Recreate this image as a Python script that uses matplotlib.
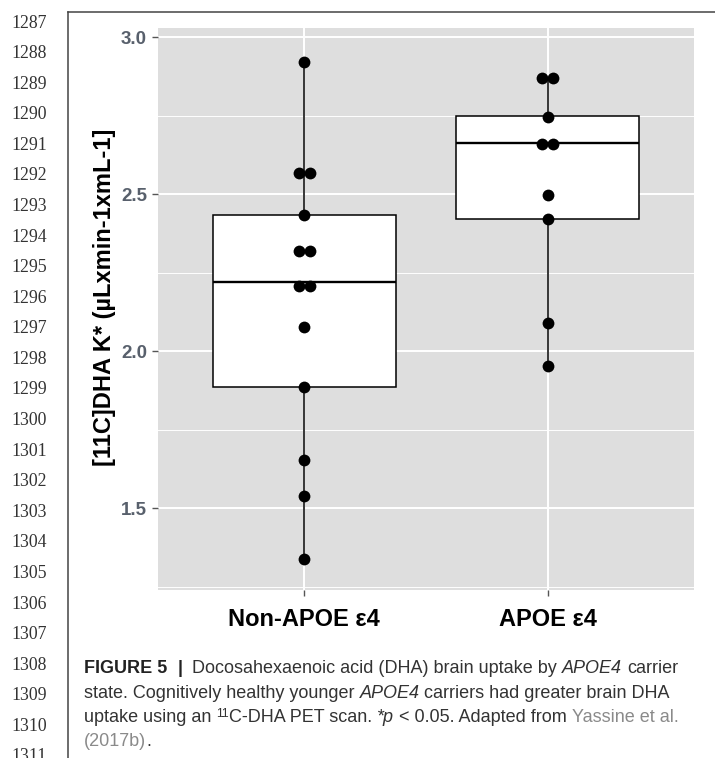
import matplotlib
matplotlib.use('Agg')
import matplotlib.pyplot as plt
from matplotlib.lines import Line2D
import numpy as np

# datos
grupos = ['Non-APOE ε4', 'APOE ε4']
puntos_non = [2.921, 2.566, 2.566, 2.433, 2.319, 2.319, 2.208, 2.208, 2.077, 1.884, 1.653, 1.538, 1.338]
puntos_apoe = [2.868, 2.868, 2.746, 2.659, 2.659, 2.497, 2.419, 2.088, 1.952]
# estadisticos de las cajas (q1, mediana, q3, bigotes)
q1 = [1.884, 2.419]
mediana = [2.221, 2.662]
q3 = [2.433, 2.748]
bigote_inf = [1.338, 1.952]
bigote_sup = [2.921, 2.868]
yticks = [1.5, 2.0, 2.5, 3.0]
yticks_menores = [1.25, 1.75, 2.25, 2.75]
numeros_linea = list(range(1287, 1312))

W, H = 715, 758
fig = plt.figure(figsize=(W/100, H/100), dpi=100)
fig.patch.set_facecolor('white')

# panel del grafico
ax = fig.add_axes([158/W, 1-590/H, (694-158)/W, (590-28)/H])
ax.set_facecolor('#DEDEDE')
for s in ax.spines.values():
    s.set_visible(False)

pos = np.arange(1, len(grupos)+1)

# cajas
stats = []
for i in range(len(grupos)):
    stats.append({'q1': q1[i], 'med': mediana[i], 'q3': q3[i],
                  'whislo': bigote_inf[i], 'whishi': bigote_sup[i], 'fliers': []})
ax.bxp(stats, positions=pos, widths=0.75, patch_artist=True, showcaps=False, manage_ticks=False,
       boxprops=dict(facecolor='white', edgecolor='black', lw=1.1),
       medianprops=dict(color='black', lw=1.7),
       whiskerprops=dict(color='black', lw=1.1), zorder=2)

# puntos (dotplot centrado)
for p, vals in zip(pos, [puntos_non, puntos_apoe]):
    vals = np.array(vals)
    for v in np.unique(vals):
        n = np.sum(vals == v)
        offs = (np.arange(n) - (n-1)/2) * 0.044
        ax.scatter(p + offs, [v]*n, s=8.5**2, color='black', zorder=4, linewidths=0)

ax.set_xlim(0.4, 2.6)
ax.set_ylim(1.2389, 3.0287)
ax.set_yticks(yticks)
ax.set_yticks(yticks_menores, minor=True)
ax.set_xticks(pos)
ax.set_yticklabels([f'{v:.1f}' for v in yticks], fontsize=13.5, fontweight='bold',
                   color='#58606C', family='Liberation Sans')
ax.set_xticklabels(grupos, fontsize=17, fontweight='bold', color='black', family='Liberation Sans')
ax.tick_params(axis='y', which='major', length=4, width=1, color='#555555', pad=4)
ax.tick_params(axis='y', which='minor', length=0)
ax.tick_params(axis='x', length=4, width=1, color='#555555', pad=9)
ax.grid(True, which='major', color='white', lw=1.4)
ax.grid(True, which='minor', axis='y', color='white', lw=0.7)
ax.set_axisbelow(True)

ax.set_ylabel('[11C]DHA K* (µLxmin-1xmL-1]', fontsize=17, fontweight='bold',
              family='Liberation Sans', color='black')
ax.yaxis.label.set_va('center')
ax.yaxis.set_label_coords((105-158)/536, (590-297.5)/562)

# marco de la pagina
fig.add_artist(Line2D([68/W, 68/W], [0, 1-12/H], transform=fig.transFigure, color='#444444', lw=1.1))
fig.add_artist(Line2D([68/W, 1], [1-12/H, 1-12/H], transform=fig.transFigure, color='#444444', lw=1.1))

for i, n in enumerate(numeros_linea):
    fig.text(11/W, 1-(23+i*30.58)/H, str(n), fontsize=12.8, family='Liberation Serif',
             color='#333333', va='center', ha='left')

# pie de figura con estilos mezclados
renderer = fig.canvas.get_renderer()
tam = 13.0
gris = '#333333'

def ancho_espacio():
    a = fig.text(0, 0, 'a a', fontsize=tam, family='Liberation Sans')
    b = fig.text(0, 0, 'aa', fontsize=tam, family='Liberation Sans')
    w = a.get_window_extent(renderer).width - b.get_window_extent(renderer).width
    a.remove(); b.remove()
    return w

esp = ancho_espacio()

def linea(y, segs):
    x = 84
    for txt, st in segs:
        while txt.startswith(' '):
            x += esp
            txt = txt[1:]
        kw = dict(fontsize=tam, family='Liberation Sans', color=gris, va='baseline', ha='left')
        dy = 0
        if 'b' in st:
            kw['fontweight'] = 'bold'
            kw['color'] = '#222222'
        if 'i' in st:
            kw['fontstyle'] = 'italic'
        if 'g' in st:
            kw['color'] = '#8A8A8A'
        if 's' in st:
            kw['fontsize'] = tam*0.68
            dy = 5
        t = fig.text(x/W, 1-(y-dy)/H, txt, **kw)
        x += t.get_window_extent(renderer).width

linea(673, [('FIGURE 5', 'b'), ('  |', 'b'), ('  Docosahexaenoic acid (DHA) brain uptake by', ''),
            (' APOE4', 'i'), (' carrier', '')])
linea(697.5, [('state. Cognitively healthy younger', ''), (' APOE4', 'i'),
              (' carriers had greater brain DHA', '')])
linea(722, [('uptake using an', ''), (' 11', 's'), ('C-DHA PET scan.', ''), (' *p', 'i'),
            (' < 0.05. Adapted from', ''), (' Yassine et al.', 'g')])
linea(746, [('(2017b)', 'g'), ('.', '')])

fig.savefig('out.png', dpi=100)
